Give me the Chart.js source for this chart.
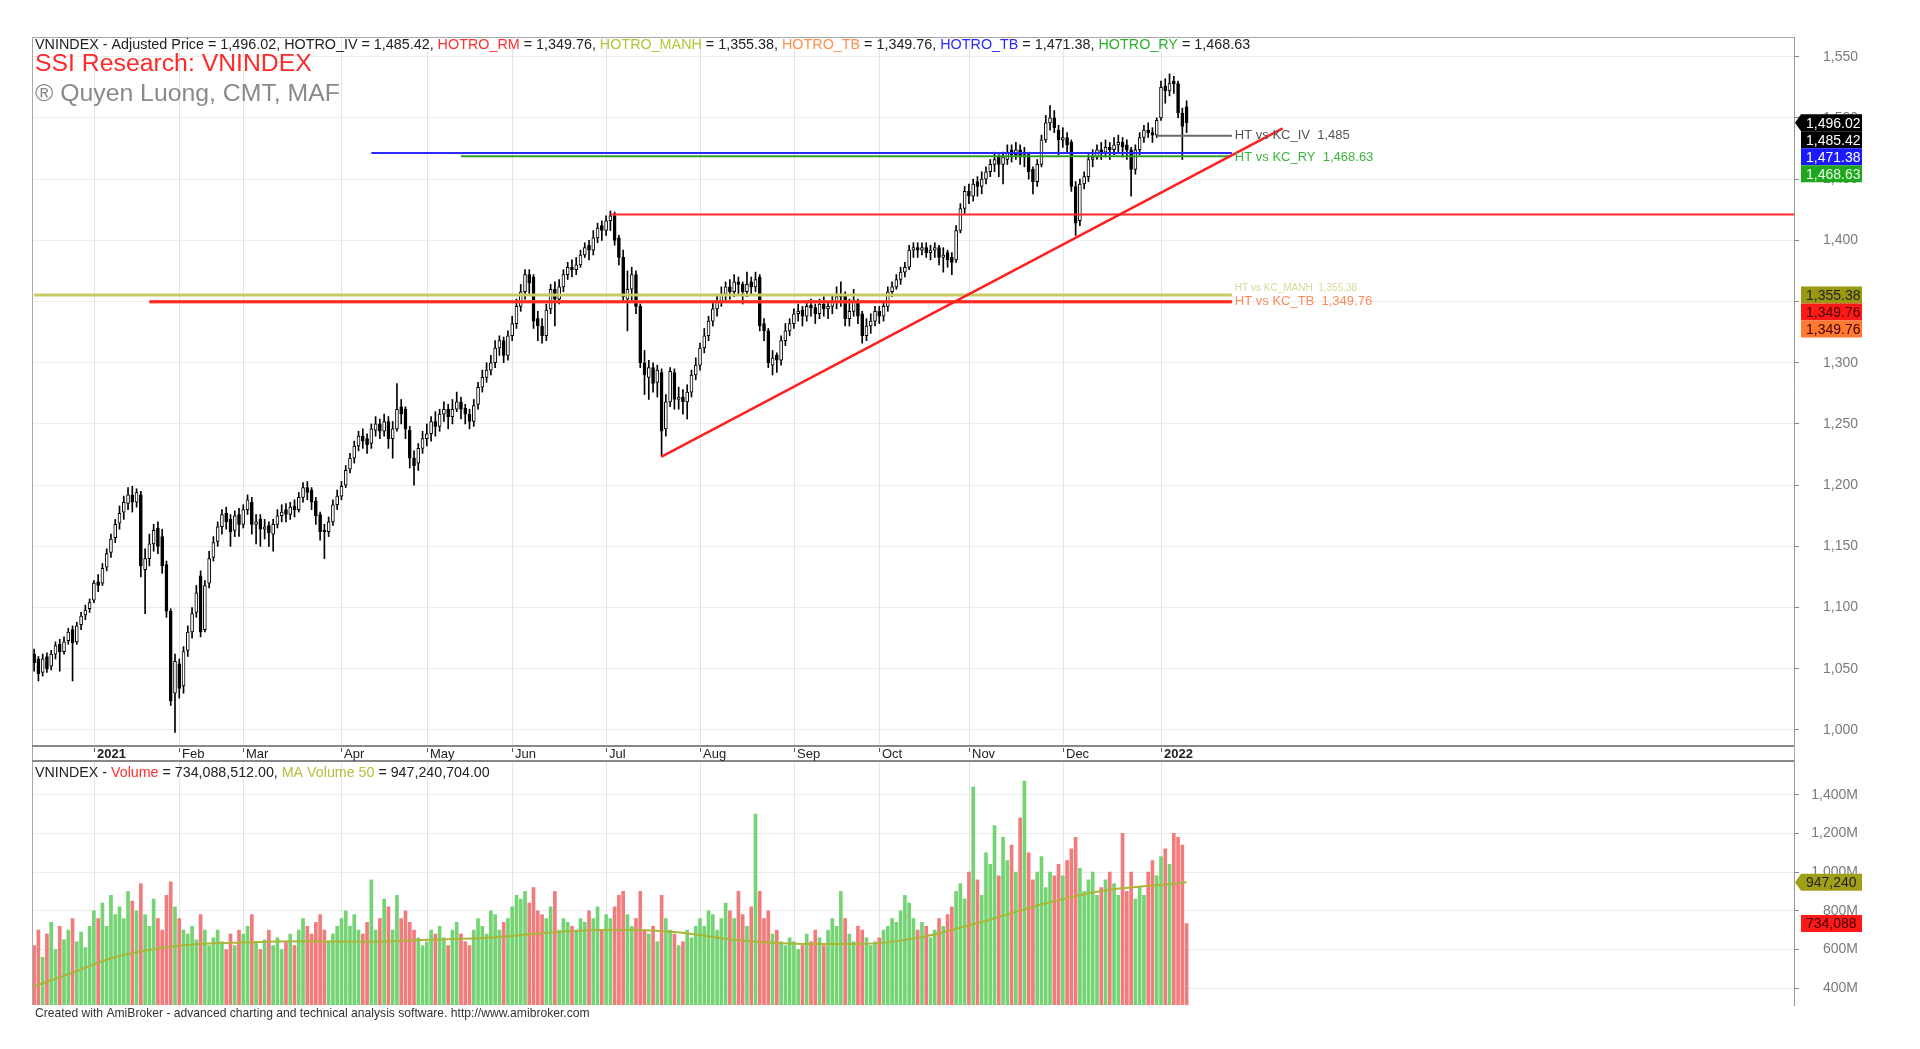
<!DOCTYPE html>
<html><head><meta charset="utf-8">
<script src="https://cdn.jsdelivr.net/npm/chart.js@4.4.1/dist/chart.umd.min.js"></script>
<style>
html,body{margin:0;padding:0;background:#fff;width:1920px;height:1049px;overflow:hidden}
#wrapP{position:absolute;left:0;top:0;width:1920px;height:762px}
#wrapV{position:absolute;left:0;top:752px;width:1920px;height:297px}
canvas{display:block}
</style></head><body>
<div id="wrapP"><canvas id="cP" width="1920" height="762"></canvas></div>
<div id="wrapV"><canvas id="cV" width="1920" height="297"></canvas></div>
<script>
// ---------- trading days (categories) ----------
const dec2020=[14,15,16,17,18,21,22,23,24,25,28,29,30,31];
const jan2021=[4,5,6,7,8,11,12,13,14,15,18,19,20,21,22,25,26,27,28,29];
const feb2021=[1,2,3,4,5,8,9,17,18,19,22,23,24,25,26];
const mar2021=[1,2,3,4,5,8,9,10,11,12,15,16,17,18,19,22,23,24,25,26,29,30,31];
const apr2021=[1,2,5,6,7,8,9,12,13,14,15,16,19,20,22,23,26,27,28,29];
const may2021=[4,5,6,7,10,11,12,13,14,17,18,19,20,21,24,25,26,27,28,31];
const jun2021=[1,2,3,4,7,8,9,10,11,14,15,16,17,18,21,22,23,24,25,28,29,30];
const jul2021=[1,2,5,6,7,8,9,12,13,14,15,16,19,20,21,22,23,26,27,28,29,30];
const aug2021=[2,3,4,5,6,9,10,11,12,13,16,17,18,19,20,23,24,25,26,27,30,31];
const sep2021=[1,6,7,8,9,10,13,14,15,16,17,20,21,22,23,24,27,28,29,30];
const oct2021=[1,4,5,6,7,8,11,12,13,14,15,18,19,20,21,22,25,26,27,28,29];
const nov2021=[1,2,3,4,5,8,9,10,11,12,15,16,17,18,19,22,23,24,25,26,29,30];
const dec2021=[1,2,3,6,7,8,9,10,13,14,15,16,17,20,21,22,23,24,27,28,29,30,31];
const jan2022=[4,5,6,7,10,11,12];
const monthPrefixes=['2020-12','2021-01','2021-02','2021-03','2021-04','2021-05','2021-06','2021-07','2021-08','2021-09','2021-10','2021-11','2021-12','2022-01'];
const monthTickLabels=['','2021','Feb','Mar','Apr','May','Jun','Jul','Aug','Sep','Oct','Nov','Dec','2022'];
const priceTicks=[1000,1050,1100,1150,1200,1250,1300,1350,1400,1450,1500,1550];
const volumeTicks=[400,600,800,1000,1200,1400];

// ---------- OHLC ----------
const opens=[
1062,1058,1047,1060,1052,1062,1070,1064,1073,1082,1072,1086,1094,1099,
1106,1121,1120,1133,1145,1157,1169,1178,1185,1192,1186,1192,1131,1140,1152,1165,1158,1135,1097,1030,
1054,1036,1065,1080,1096,1126,1082,1120,1141,1154,1166,1177,1172,1163,1176,
1168,1180,1186,1168,1172,1164,1167,1160,1168,1175,1180,1176,1183,1180,1190,1198,1196,1187,1176,1163,1162,1170,1184,
1191,1200,1213,1222,1232,1240,1238,1234,1245,1250,1244,1252,1238,1246,1264,1262,1245,1222,1218,1230,
1238,1242,1252,1248,1258,1262,1256,1262,1268,1263,1258,1252,1266,1280,1288,1294,1300,1312,1318,1306,
1322,1332,1346,1358,1372,1370,1336,1330,1322,1344,1360,1352,1362,1372,1378,1376,1380,1388,1396,1392,1402,1412,
1408,1416,1420,1402,1386,1352,1360,1372,1346,1300,1288,1296,1284,1292,1246,1268,1292,1270,1272,1268,1276,1290,
1298,1312,1322,1334,1344,1350,1356,1362,1358,1366,1364,1358,1366,1362,1370,1332,1326,1298,1306,1302,1318,1326,
1332,1340,1343,1338,1347,1345,1340,1348,1344,1346,1350,1354,1356,1336,1342,1350,1340,1322,1330,1334,
1342,1338,1346,1358,1362,1368,1374,1378,1392,1394,1392,1394,1390,1392,1394,1386,1390,1386,1384,1408,1426,
1440,1436,1448,1444,1450,1456,1462,1468,1462,1466,1474,1470,1474,1468,1470,1458,1448,1462,1482,1496,1500,1490,
1482,1484,1480,1444,1416,1446,1452,1466,1468,1474,1472,1476,1474,1478,1480,1478,1474,1458,1474,1484,1490,1488,1486,
1500,1526,1522,1530,1528,1504,1509];
const highs=[
1066,1060,1062,1063,1065,1072,1074,1076,1083,1085,1088,1096,1102,1107,
1122,1127,1136,1148,1160,1172,1183,1191,1198,1199,1197,1195,1148,1160,1168,1170,1164,1138,1099,1062,
1058,1068,1085,1100,1118,1130,1122,1146,1158,1170,1180,1182,1176,1179,1181,
1184,1192,1190,1176,1176,1172,1170,1172,1180,1184,1185,1186,1188,1194,1202,1203,1198,1190,1178,1168,1174,1188,1196,
1203,1216,1226,1236,1244,1246,1242,1250,1256,1254,1258,1256,1252,1283,1270,1264,1248,1228,1234,1244,
1250,1256,1260,1262,1268,1266,1270,1276,1272,1266,1262,1270,1284,1294,1300,1306,1318,1322,1321,1326,
1338,1352,1364,1376,1376,1372,1342,1336,1348,1364,1366,1368,1376,1382,1384,1386,1392,1398,1400,1408,1414,1416,
1420,1424,1423,1404,1392,1375,1378,1375,1348,1310,1302,1300,1298,1295,1274,1296,1295,1280,1278,1282,1294,1304,
1316,1328,1338,1350,1356,1362,1366,1368,1372,1370,1366,1374,1370,1374,1372,1336,1328,1310,1308,1322,1332,1336,
1344,1348,1346,1350,1352,1348,1352,1354,1350,1356,1362,1366,1358,1352,1360,1352,1342,1336,1340,1346,
1346,1350,1362,1366,1372,1378,1382,1396,1398,1398,1398,1398,1396,1398,1396,1394,1392,1390,1412,1430,1444,
1446,1450,1452,1456,1460,1466,1472,1470,1472,1478,1478,1480,1478,1476,1472,1460,1466,1486,1502,1510,1506,1494,
1492,1488,1482,1448,1450,1456,1470,1474,1478,1480,1482,1480,1484,1486,1484,1482,1476,1478,1488,1494,1496,1492,1500,
1530,1532,1536,1534,1530,1508,1514];
const lows=[
1048,1040,1044,1047,1049,1058,1048,1062,1070,1040,1070,1082,1090,1096,
1104,1113,1118,1130,1141,1153,1164,1172,1180,1178,1182,1125,1095,1134,1146,1144,1128,1092,1020,998,
1026,1030,1060,1075,1092,1076,1080,1116,1138,1150,1160,1164,1150,1158,1158,
1165,1176,1160,1152,1150,1156,1150,1146,1165,1170,1170,1172,1174,1178,1186,1188,1180,1168,1155,1140,1158,1167,1180,
1188,1198,1210,1218,1228,1230,1226,1230,1240,1238,1240,1230,1222,1244,1250,1238,1214,1200,1212,1226,
1232,1236,1240,1244,1252,1246,1250,1260,1254,1250,1246,1248,1262,1276,1284,1290,1296,1306,1300,1302,
1318,1328,1342,1352,1356,1328,1318,1316,1318,1340,1330,1348,1358,1368,1370,1372,1378,1386,1384,1388,1398,1400,
1404,1408,1396,1380,1350,1326,1350,1340,1296,1274,1270,1276,1272,1224,1240,1264,1262,1262,1258,1254,1272,1286,
1294,1308,1318,1330,1338,1346,1350,1352,1354,1356,1348,1354,1356,1358,1326,1318,1296,1290,1292,1298,1314,1322,
1328,1334,1330,1334,1338,1332,1336,1338,1336,1340,1344,1346,1330,1330,1338,1332,1316,1318,1324,1330,
1332,1334,1342,1354,1360,1364,1370,1376,1386,1386,1388,1386,1384,1386,1380,1374,1378,1372,1382,1406,1422,
1430,1432,1436,1438,1446,1452,1456,1452,1446,1462,1464,1466,1462,1460,1450,1438,1444,1460,1480,1490,1488,1470,
1476,1472,1440,1404,1412,1442,1448,1460,1466,1466,1468,1466,1470,1472,1468,1466,1436,1454,1470,1480,1484,1480,1484,
1498,1512,1518,1520,1500,1466,1488];
const closes=[
1055,1046,1058,1050,1062,1069,1064,1072,1080,1071,1085,1093,1098,1104,
1120,1118,1132,1144,1156,1168,1177,1186,1192,1186,1194,1134,1140,1152,1163,1150,1134,1097,1024,1056,
1034,1064,1080,1095,1112,1080,1118,1140,1153,1166,1176,1170,1162,1175,1168,
1180,1188,1168,1170,1164,1166,1161,1168,1175,1178,1176,1182,1180,1190,1198,1194,1186,1175,1162,1162,1170,1184,1191,
1199,1212,1222,1232,1240,1236,1233,1246,1250,1244,1252,1238,1246,1262,1258,1246,1222,1216,1230,1238,
1242,1252,1248,1258,1262,1256,1262,1268,1262,1258,1252,1265,1280,1288,1294,1300,1312,1318,1306,1322,
1332,1346,1358,1372,1365,1334,1330,1322,1343,1360,1352,1362,1372,1378,1376,1380,1388,1394,1392,1402,1410,1408,
1416,1420,1400,1386,1354,1360,1372,1346,1300,1290,1296,1283,1294,1244,1268,1293,1270,1272,1268,1276,1290,1298,
1312,1322,1334,1344,1350,1356,1362,1358,1366,1364,1358,1364,1362,1368,1330,1326,1300,1304,1302,1318,1326,1332,
1340,1342,1338,1346,1345,1340,1348,1344,1346,1350,1354,1356,1336,1342,1350,1338,1322,1330,1334,1342,
1338,1346,1358,1362,1368,1374,1378,1392,1394,1392,1394,1390,1392,1394,1386,1388,1384,1382,1408,1426,1440,
1436,1446,1444,1450,1456,1462,1466,1462,1468,1472,1470,1474,1468,1470,1456,1448,1462,1482,1496,1500,1492,1482,
1484,1478,1444,1414,1446,1452,1466,1468,1474,1472,1476,1474,1478,1480,1476,1474,1458,1474,1484,1490,1488,1486,1498,
1525,1522,1528,1528,1504,1493,1496.02];
// volume in millions of shares
const volumes=[
620,700,560,680,740,600,720,650,700,760,640,690,610,720,
800,760,840,720,880,780,820,760,900,850,800,940,780,720,860,760,700,880,950,820,
760,700,680,720,650,780,700,620,660,700,640,600,680,620,700,
680,720,780,640,600,650,700,620,660,600,640,680,620,700,760,720,680,740,780,700,640,680,720,
760,800,720,780,700,680,740,960,700,760,860,820,700,880,760,800,740,700,660,620,
640,700,680,720,660,620,700,740,680,640,620,700,760,720,680,800,780,700,740,760,
820,880,860,900,840,920,800,780,760,820,900,700,760,740,720,700,760,740,800,760,820,700,
780,760,820,880,900,780,720,760,900,700,680,720,640,880,760,700,680,620,640,700,660,720,
760,720,800,780,700,760,840,800,760,900,780,720,820,1300,900,760,800,680,700,640,620,660,
640,600,620,680,640,700,660,620,700,760,720,900,760,680,640,720,700,660,620,640,
660,700,720,760,740,800,880,840,760,700,740,720,660,700,760,720,780,820,900,940,860,
1000,1440,960,880,1100,1040,1240,980,1180,1060,1140,1000,1280,1470,1100,960,1000,1080,920,1000,980,1040,
980,1060,1120,1180,1020,900,960,1000,880,920,960,1000,940,880,1200,900,1000,860,920,880,1000,1060,980,
1080,1120,1040,1200,1180,1140,734.09];
const maIdx=[0,9,18,26,35,49,64,78,92,107,121,135,150,164,178,193,207,222,236,250,265,270];
const maVol=[410,480,555,595,622,636,642,640,650,662,688,702,690,650,630,628,660,742,832,902,936,947.24];

// ---------- support levels & drawn lines ----------
const levelNames=['HOTRO_IV','HOTRO_RM','HOTRO_MANH','HOTRO_TB','HOTRO_TB','HOTRO_RY'];
const levelValues=[1485.42,1349.76,1355.38,1349.76,1471.38,1468.63];
const levelStartIdx=[263,27,0,27,79,100];
const levelEndIdx=280.6;
const trendIdx=[146.9,292.5];
const trendVal=[1223,1491.5];
const peakIdx=[135,412.3];
const peakVal=1421;
const lastPrice=1496.02, lastVolume=734088512, lastMaVolume=947240704;

// ---------- build ----------
const monthDays=[dec2020,jan2021,feb2021,mar2021,apr2021,may2021,jun2021,jul2021,aug2021,sep2021,oct2021,nov2021,dec2021,jan2022];
const dates=[]; const monthStart=[];
monthDays.forEach((days,m)=>{monthStart.push(dates.length);days.forEach(d=>dates.push(monthPrefixes[m]+'-'+String(d).padStart(2,'0')));});
[opens,highs,lows,closes,volumes].forEach((a,k)=>{if(a.length!==dates.length) throw new Error('length mismatch '+k+': '+a.length+' vs '+dates.length);});

const FONT='"Liberation Sans", Arial, Helvetica, sans-serif';
const fmt2=v=>v.toLocaleString('en-US',{minimumFractionDigits:2,maximumFractionDigits:2});
function fitSize(ctx,text,weight,target){ctx.font=weight+' 20px '+FONT;return 20*target/ctx.measureText(text).width;}
function drawSegments(ctx,segs,x,y,target){
  const full=segs.map(s=>s[0]).join('');
  const size=fitSize(ctx,full,'normal',target);
  ctx.font=size+'px '+FONT;ctx.textBaseline='middle';ctx.textAlign='left';
  let cx=x;for(const [t,c] of segs){ctx.fillStyle=c;ctx.fillText(t,cx,y);cx+=ctx.measureText(t).width;}
}
function fitText(ctx,text,x,y,target,color,weight){
  const size=fitSize(ctx,text,weight||'normal',target);
  ctx.font=(weight||'normal')+' '+size+'px '+FONT;ctx.fillStyle=color;ctx.textBaseline='middle';ctx.textAlign='left';ctx.fillText(text,x,y);
}
function tag(ctx,yc,text,bg,fg,arrow){
  const h=17,x0=1801,x1=1862;
  ctx.fillStyle=bg;ctx.beginPath();
  if(arrow){ctx.moveTo(1795,yc);ctx.lineTo(x0,yc-h/2);}else ctx.moveTo(x0,yc-h/2);
  ctx.lineTo(x1,yc-h/2);ctx.lineTo(x1,yc+h/2);ctx.lineTo(x0,yc+h/2);ctx.closePath();ctx.fill();
  ctx.save();ctx.beginPath();ctx.rect(x0,yc-h/2,x1-x0,h);ctx.clip();
  ctx.fillStyle=fg;ctx.font='14px '+FONT;ctx.textBaseline='middle';ctx.textAlign='left';ctx.fillText(text,x0+5,yc+1);
  ctx.restore();
}
function monthGrid(chart){
  const {ctx,chartArea:a,scales:{x}}=chart;
  ctx.save();ctx.strokeStyle='#e4e4e4';ctx.lineWidth=1;
  for(let m=1;m<monthStart.length;m++){const px=Math.round(x.getPixelForValue(monthStart[m]))+0.5;ctx.beginPath();ctx.moveTo(px,a.top);ctx.lineTo(px,a.bottom);ctx.stroke();}
  ctx.restore();
}
const xOpts=()=>({type:'linear',min:-0.5,max:412.3,offset:false,display:false,grid:{offset:false}});

const pricePlugin={
  id:'pricePanel',
  beforeDatasetsDraw(chart){monthGrid(chart);},
  afterDraw(chart){
    const {ctx,chartArea:a,scales:{x,y}}=chart;
    ctx.save();
    // frame
    ctx.strokeStyle='#a8a8a8';ctx.lineWidth=1;
    ctx.beginPath();ctx.moveTo(a.left,a.top+0.5);ctx.lineTo(a.right,a.top+0.5);ctx.stroke();
    ctx.beginPath();ctx.moveTo(a.left+0.5,a.top);ctx.lineTo(a.left+0.5,762);ctx.stroke();
    ctx.beginPath();ctx.moveTo(a.right+0.5,a.bottom);ctx.lineTo(a.right+0.5,762);ctx.stroke();
    // date strip
    ctx.strokeStyle='#888';ctx.lineWidth=2;
    ctx.beginPath();ctx.moveTo(a.left,a.bottom+1);ctx.lineTo(a.right,a.bottom+1);ctx.stroke();
    ctx.beginPath();ctx.moveTo(a.left,761);ctx.lineTo(a.right,761);ctx.stroke();
    for(let m=1;m<monthStart.length;m++){
      const px=Math.round(x.getPixelForValue(monthStart[m]));
      ctx.strokeStyle='#555';ctx.lineWidth=1;ctx.beginPath();ctx.moveTo(px+0.5,748);ctx.lineTo(px+0.5,752);ctx.stroke();
      const yr=/^\d+$/.test(monthTickLabels[m]);
      ctx.font=(yr?'bold ':'')+'13px '+FONT;ctx.fillStyle='#222';ctx.textBaseline='middle';ctx.textAlign='left';
      ctx.fillText(monthTickLabels[m],px+3,754);
    }
    // header
    drawSegments(ctx,[
      ['VNINDEX - Adjusted Price = '+fmt2(lastPrice)+', '+levelNames[0]+' = '+fmt2(levelValues[0])+', ','#222'],
      [levelNames[1],'#ff3030'],[' = '+fmt2(levelValues[1])+', ','#222'],
      [levelNames[2],'#b5c63c'],[' = '+fmt2(levelValues[2])+', ','#222'],
      [levelNames[3],'#ff9050'],[' = '+fmt2(levelValues[3])+', ','#222'],
      [levelNames[4],'#2a2aff'],[' = '+fmt2(levelValues[4])+', ','#222'],
      [levelNames[5],'#2fb02f'],[' = '+fmt2(levelValues[5]),'#222']
    ],35,45,1216);
    fitText(ctx,'SSI Research: VNINDEX',35,64,277,'#ff2a2a');
    fitText(ctx,'\u00AE Quyen Luong, CMT, MAF',35,94,305,'#8a8a8a');
    // line labels
    const lx=x.getPixelForValue(levelEndIdx)+3;
    ctx.textBaseline='middle';ctx.textAlign='left';
    ctx.font='10px '+FONT;ctx.fillStyle='#d8d89a';ctx.fillText('HT vs KC_MANH  '+fmt2(levelValues[2]),lx,y.getPixelForValue(levelValues[2])-7);
    ctx.font='13px '+FONT;
    ctx.fillStyle='#555';ctx.fillText('HT vs KC_IV  '+Math.round(levelValues[0]).toLocaleString('en-US'),lx,y.getPixelForValue(levelValues[0]));
    ctx.fillStyle='#3cb43c';ctx.fillText('HT vs KC_RY  '+fmt2(levelValues[5]),lx,y.getPixelForValue(levelValues[5])+1);
    ctx.fillStyle='#ff8a5a';ctx.fillText('HT vs KC_TB  '+fmt2(levelValues[3]),lx,y.getPixelForValue(levelValues[3]));
    // value tags
    const tags=[
      [lastPrice,'#000','#fff',true],[levelValues[0],'#000','#fff',false],[levelValues[4],'#1a1aff','#fff',false],[levelValues[5],'#1fa81f','#eaffea',false],
      [levelValues[2],'#9a9a12','#222',false],[levelValues[1],'#ff1a1a','#400',false],[levelValues[3],'#ff7a30','#400',false]];
    let prev=-1e9;
    for(const [v,bg,fg,ar] of tags){let yc=y.getPixelForValue(v);if(yc<prev+17)yc=prev+17;prev=yc;tag(ctx,yc,fmt2(v),bg,fg,ar);}
    ctx.restore();
  }
};

// lower "order" = drawn on top
const lineDs=(xs,ys,color,w,ord)=>({type:'line',data:xs.map((xx,i)=>({x:xx,y:ys[i]})),borderColor:color,borderWidth:w,pointRadius:0,fill:false,order:ord});
const levelColors=['#6a6a6a','#ff2a2a','#c9cb62','#ff9050','#2a2aff','#2a9e2a'];
const levelWidths=[2,3,3,3,2,2];
const levelOrders=[-7,-4,-2,-3,-6,-5];
const levelDatasets=levelValues.map((v,k)=>lineDs([levelStartIdx[k],levelEndIdx],[v,v],levelColors[k],levelWidths[k],levelOrders[k]));

new Chart(document.getElementById('cP'),{
  type:'bar',
  data:{datasets:[
    ...levelDatasets,
    lineDs(peakIdx,[peakVal,peakVal],'#ff2a2a',2,-1),
    lineDs(trendIdx,trendVal,'#ff2020',2.5,-8),
    {type:'bar',data:dates.map((d,i)=>({x:i,y:[opens[i],closes[i]]})),barThickness:3,borderWidth:1,borderColor:'#000',
      backgroundColor:c=>closes[c.dataIndex]>=opens[c.dataIndex]?'#fff':'#000',borderSkipped:false,grouped:false,order:1},
    {type:'bar',data:dates.map((d,i)=>({x:i,y:[lows[i],highs[i]]})),barThickness:1,borderWidth:0,backgroundColor:'#000',grouped:false,order:2}
  ]},
  options:{responsive:false,animation:false,devicePixelRatio:1,events:[],
    layout:{padding:{left:32,top:37,right:62,bottom:17}},
    plugins:{legend:{display:false},tooltip:{enabled:false},title:{display:false}},
    scales:{x:xOpts(),
      y:{type:'linear',position:'right',min:987.7,max:1566.1,beginAtZero:false,
        afterBuildTicks:s=>{s.ticks=priceTicks.map(v=>({value:v}));},
        afterFit:s=>{s.width=64;s.paddingTop=0;s.paddingBottom=0;},
        ticks:{crossAlign:'far',padding:10,color:'#7a7a7a',font:{family:FONT,size:14},callback:v=>v.toLocaleString('en-US')},
        grid:{color:'#ededed',tickColor:'#888',tickLength:5},border:{color:'#999'}}}
  },
  plugins:[pricePlugin]
});

const volPlugin={
  id:'volPanel',
  beforeDatasetsDraw(chart){monthGrid(chart);},
  afterDraw(chart){
    const {ctx,chartArea:a,scales:{y}}=chart;
    ctx.save();
    ctx.strokeStyle='#a8a8a8';ctx.lineWidth=1;
    ctx.beginPath();ctx.moveTo(a.left+0.5,a.top);ctx.lineTo(a.left+0.5,a.bottom);ctx.stroke();
    drawSegments(ctx,[
      ['VNINDEX - ','#222'],['Volume','#ff3030'],[' = '+fmt2(lastVolume)+', ','#222'],
      ['MA Volume 50','#b5c03c'],[' = '+fmt2(lastMaVolume),'#222']],35,21,455);
    fitText(ctx,'Created with AmiBroker - advanced charting and technical analysis software. http://www.amibroker.com',35,262,555,'#333');
    tag(ctx,y.getPixelForValue(lastMaVolume/1e6),Math.floor(lastMaVolume/1000).toLocaleString('en-US'),'#a0a018','#222',true);
    tag(ctx,y.getPixelForValue(lastVolume/1e6),Math.floor(lastVolume/1000).toLocaleString('en-US'),'#ff1a1a','#400',false);
    ctx.restore();
  }
};

new Chart(document.getElementById('cV'),{
  type:'bar',
  data:{datasets:[
    {type:'line',data:maIdx.map((xx,i)=>({x:xx,y:maVol[i]})),borderColor:'#adb43a',borderWidth:2,pointRadius:0,cubicInterpolationMode:'monotone',fill:false,order:0},
    {type:'bar',data:volumes.map((v,i)=>({x:i,y:v})),barThickness:3,borderWidth:0,
      backgroundColor:c=>closes[c.dataIndex]>=opens[c.dataIndex]?'#74d474':'#f27c7c',grouped:false,order:1}
  ]},
  options:{responsive:false,animation:false,devicePixelRatio:1,events:[],
    layout:{padding:{left:32,top:10,right:62,bottom:44}},
    plugins:{legend:{display:false},tooltip:{enabled:false}},
    scales:{x:xOpts(),
      y:{type:'linear',position:'right',min:313,max:1569,beginAtZero:false,
        afterBuildTicks:s=>{s.ticks=volumeTicks.map(v=>({value:v}));},
        afterFit:s=>{s.width=64;s.paddingTop=0;s.paddingBottom=0;},
        ticks:{crossAlign:'far',padding:10,color:'#7a7a7a',font:{family:FONT,size:14},callback:v=>v.toLocaleString('en-US')+'M'},
        grid:{color:'#ededed',tickColor:'#888',tickLength:5},border:{color:'#999'}}}
  },
  plugins:[volPlugin]
});
</script></body></html>
